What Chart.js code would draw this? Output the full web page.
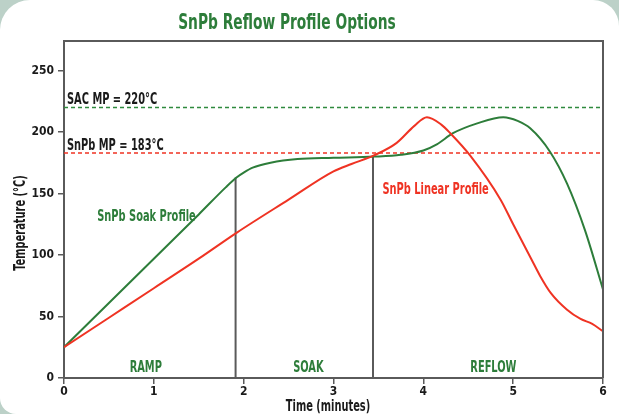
<!DOCTYPE html>
<html>
<head>
<meta charset="utf-8">
<script src="https://cdn.jsdelivr.net/npm/chart.js@4.4.1/dist/chart.umd.min.js"></script>
<style>
  html, body { margin: 0; padding: 0; background: #bcd1c8; }
  #wrap {
    position: relative; width: 619px; height: 414px; background: #fff;
    border-radius: 30px 26px 0 16px; overflow: hidden;
  }
  canvas { display: block; }
</style>
</head>
<body>
<div id="wrap"><canvas id="chart" width="619" height="414"></canvas></div>
<script>
// Datos
const soakTime = [0, 0.5, 1.0, 1.5, 1.8, 1.92, 2.0, 2.1, 2.3, 2.6, 3.0, 3.45, 3.75, 4.0, 4.15, 4.33, 4.6, 4.89, 5.05, 5.19, 5.41, 5.6, 5.8, 6.0];
const soakTemp = [25, 61, 97, 133, 155, 163, 167, 171, 175, 178, 179, 180, 181.5, 185, 190, 199, 207, 212, 209, 203, 184, 158, 120, 72];

const linearTime = [0, 0.5, 1.0, 1.5, 1.92, 2.5, 3.0, 3.2, 3.45, 3.7, 3.9, 4.04, 4.2, 4.3, 4.52, 4.86, 5.0, 5.2, 5.3, 5.42, 5.6, 5.75, 5.88, 6.0];
const linearTemp = [25, 49, 73, 97, 118, 145, 168, 174, 181, 191, 205, 212, 206, 199, 181, 145, 125, 97, 83, 69, 55.5, 48, 44, 38];

const meltPoints = [220, 183];           // SAC, SnPb
const meltLabels = ["SAC MP = 220°C", "SnPb MP = 183°C"];
const phaseBounds = [1.91, 3.44];        // fin de RAMP, fin de SOAK
const phaseTops = [163, 181];
const phaseNames = ["RAMP", "SOAK", "REFLOW"];
const yTicks = [0, 50, 100, 150, 200, 250];

const GREEN = "#2d7d3a";
const RED = "#ef3323";
const GREY = "#5a5a5a";
const FONT = "'Liberation Sans Narrow', 'DejaVu Sans Condensed', 'Roboto', sans-serif";
const NARROW = 0.73; // compresion horizontal del texto

const pts = (xs, ys) => xs.map((x, i) => ({ x, y: ys[i] }));

const datasets = [
  {
    label: "SnPb Soak Profile", data: pts(soakTime, soakTemp),
    borderColor: GREEN, borderWidth: 2, pointRadius: 0,
    cubicInterpolationMode: "monotone", order: 1,
  },
  {
    label: "SnPb Linear Profile", data: pts(linearTime, linearTemp),
    borderColor: RED, borderWidth: 2, pointRadius: 0,
    cubicInterpolationMode: "monotone", order: 0,
  },
];

// lineas punteadas de punto de fusion
meltPoints.forEach((mp, i) => {
  datasets.push({
    label: meltLabels[i], data: [{ x: 0, y: mp }, { x: 6, y: mp }],
    borderColor: i === 0 ? "#2f8a3e" : RED, borderWidth: 1.5, borderDash: [4, 3],
    pointRadius: 0, order: 5,
  });
});

// lineas verticales de fases
phaseBounds.forEach((t, i) => {
  datasets.push({
    label: "phase" + i, data: [{ x: t, y: 0 }, { x: t, y: phaseTops[i] }],
    borderColor: GREY, borderWidth: 2, pointRadius: 0, order: 4,
  });
});

// texto angosto (no hay fuente condensada real)
const narrowText = (ctx, text, x, y, align) => {
  ctx.save();
  ctx.translate(x, y);
  ctx.scale(NARROW, 1);
  ctx.textAlign = align;
  ctx.fillText(text, 0, 0);
  ctx.restore();
};

// Textos y marco
const annotations = {
  id: "annotations",
  afterDatasetsDraw(chart) {
    const { ctx, chartArea: a, scales: { x, y } } = chart;
    ctx.save();
    // marco superior y derecho
    ctx.strokeStyle = GREY;
    ctx.lineWidth = 2;
    ctx.beginPath();
    ctx.moveTo(a.left, a.top);
    ctx.lineTo(a.right, a.top);
    ctx.lineTo(a.right, a.bottom);
    ctx.stroke();

    ctx.textBaseline = "alphabetic";
    // etiquetas de puntos de fusion
    ctx.fillStyle = "#1a1a1a";
    ctx.font = "bold 15px " + FONT;
    meltPoints.forEach((mp, i) => {
      narrowText(ctx, meltLabels[i], x.getPixelForValue(0) + 3, y.getPixelForValue(mp) - 3, "left");
    });

    // nombres de curvas
    ctx.fillStyle = GREEN;
    narrowText(ctx, "SnPb Soak Profile", x.getPixelForValue(0.37), y.getPixelForValue(128), "left");
    ctx.fillStyle = RED;
    narrowText(ctx, "SnPb Linear Profile", x.getPixelForValue(3.545), y.getPixelForValue(150), "left");

    // fases
    ctx.fillStyle = GREEN;
    const centers = [0.91, 2.72, 4.78];
    phaseNames.forEach((n, i) => {
      narrowText(ctx, n, x.getPixelForValue(centers[i]), y.getPixelForValue(5), "center");
    });

    // titulo
    ctx.font = "bold 21px " + FONT;
    narrowText(ctx, "SnPb Reflow Profile Options", 287, 29, "center");

    // titulos de ejes
    ctx.fillStyle = "#1a1a1a";
    ctx.font = "bold 15px " + FONT;
    narrowText(ctx, "Time (minutes)", 328, 411, "center");
    ctx.translate(25, 223);
    ctx.rotate(-Math.PI / 2);
    narrowText(ctx, "Temperature (°C)", 0, 0, "center");
    ctx.restore();
  },
};

new Chart(document.getElementById("chart"), {
  type: "line",
  data: { datasets },
  options: {
    responsive: false,
    animation: false,
    layout: { padding: { top: 41, right: 16, left: 0, bottom: 0 } },
    plugins: { legend: { display: false }, tooltip: { enabled: false } },
    scales: {
      x: {
        type: "linear", min: 0, max: 6,
        ticks: { stepSize: 1, color: "#1a1a1a", padding: 1, font: { family: FONT, size: 12, weight: "bold" } },
        grid: { drawOnChartArea: false, tickLength: 6, color: GREY, lineWidth: 1.5 },
        border: { color: GREY, width: 2 },
        afterFit: (s) => { s.height = 36; },
      },
      y: {
        min: 0, max: 274,
        afterBuildTicks: (s) => { s.ticks = yTicks.map((v) => ({ value: v })); },
        ticks: { color: "#1a1a1a", padding: 4, font: { family: FONT, size: 12, weight: "bold" } },
        grid: { drawOnChartArea: false, tickLength: 6, color: GREY, lineWidth: 1.5 },
        border: { color: GREY, width: 2 },
        afterFit: (s) => { s.width = 64; },
      },
    },
  },
  plugins: [annotations],
});
</script>
</body>
</html>
